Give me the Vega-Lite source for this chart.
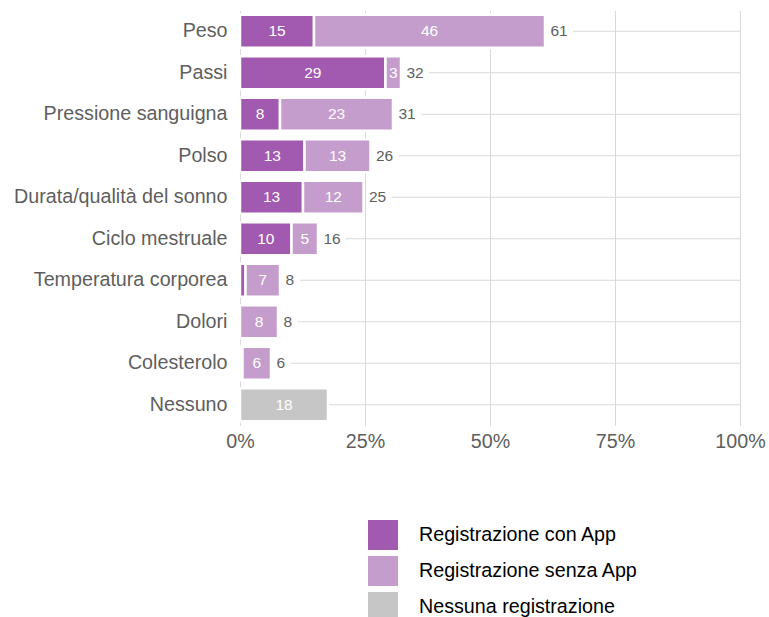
{
  "$schema": "https://vega.github.io/schema/vega-lite/v6.json",
  "autosize": {"type": "none"},
  "width": 500,
  "height": 415,
  "padding": {"left": 240, "top": 10.5, "right": 29, "bottom": 191.5},
  "background": "white",
  "config": {"view": {"stroke": null}, "font": "Liberation Sans"},
  "data": {
    "values": [
      {"cat": "Peso", "grp": "Registrazione con App", "value": 14.8},
      {"cat": "Peso", "grp": "Registrazione senza App", "value": 46.2},
      {"cat": "Passi", "grp": "Registrazione con App", "value": 29.1},
      {"cat": "Passi", "grp": "Registrazione senza App", "value": 3.1},
      {"cat": "Pressione sanguigna", "grp": "Registrazione con App", "value": 8.0},
      {"cat": "Pressione sanguigna", "grp": "Registrazione senza App", "value": 22.6},
      {"cat": "Polso", "grp": "Registrazione con App", "value": 12.9},
      {"cat": "Polso", "grp": "Registrazione senza App", "value": 13.2},
      {"cat": "Durata/qualità del sonno", "grp": "Registrazione con App", "value": 12.6},
      {"cat": "Durata/qualità del sonno", "grp": "Registrazione senza App", "value": 12.1},
      {"cat": "Ciclo mestruale", "grp": "Registrazione con App", "value": 10.3},
      {"cat": "Ciclo mestruale", "grp": "Registrazione senza App", "value": 5.3},
      {"cat": "Temperatura corporea", "grp": "Registrazione con App", "value": 1.1},
      {"cat": "Temperatura corporea", "grp": "Registrazione senza App", "value": 6.9},
      {"cat": "Dolori", "grp": "Registrazione senza App", "value": 7.6},
      {"cat": "Colesterolo", "grp": "Registrazione con App", "value": 0.5},
      {"cat": "Colesterolo", "grp": "Registrazione senza App", "value": 5.7},
      {"cat": "Nessuno", "grp": "Nessuna registrazione", "value": 17.6}
    ]
  },
  "transform": [
    {"joinaggregate": [{"op": "sum", "field": "value", "as": "total"}], "groupby": ["cat"]},
    {"stack": "value", "groupby": ["cat"], "sort": [{"field": "grp", "order": "ascending"}], "as": ["x0", "x1"]},
    {"calculate": "(datum.x0 + datum.x1) / 2", "as": "mid"}
  ],
  "encoding": {
    "y": {
      "field": "cat",
      "type": "nominal",
      "sort": ["Peso", "Passi", "Pressione sanguigna", "Polso", "Durata/qualità del sonno", "Ciclo mestruale", "Temperatura corporea", "Dolori", "Colesterolo", "Nessuno"],
      "scale": {"paddingInner": 0.2, "paddingOuter": 0.1},
      "axis": {"title": null, "domain": false, "ticks": false, "grid": false, "labelFontSize": 19.7, "labelColor": "#5e5e5e", "labelPadding": 13, "labelLimit": 0, "labelFont": "Liberation Sans"}
    }
  },
  "layer": [
    {
      "transform": [{"filter": "datum.x0 == 0 && datum.cat != 'Nessuno' && datum.total >= 9.5"}],
      "mark": {"type": "rule", "color": "#d9d9d9", "strokeWidth": 1, "xOffset": 28},
      "encoding": {
        "x": {"field": "total", "type": "quantitative", "title": null},
        "x2": {"datum": 100}
      }
    },
    {
      "transform": [{"filter": "datum.x0 == 0 && datum.cat != 'Nessuno' && datum.total < 9.5"}],
      "mark": {"type": "rule", "color": "#d9d9d9", "strokeWidth": 1, "xOffset": 20},
      "encoding": {
        "x": {"field": "total", "type": "quantitative", "title": null},
        "x2": {"datum": 100}
      }
    },
    {
      "transform": [{"filter": "datum.cat == 'Nessuno'"}],
      "mark": {"type": "rule", "color": "#d9d9d9", "strokeWidth": 1, "xOffset": 1},
      "encoding": {
        "x": {"field": "total", "type": "quantitative", "title": null},
        "x2": {"datum": 100}
      }
    },
    {
      "mark": {"type": "bar", "stroke": "white", "strokeWidth": 2.5},
      "encoding": {
        "x": {
          "field": "x0",
          "type": "quantitative",
          "title": null,
          "scale": {"domain": [0, 100], "nice": false},
          "axis": {"title": null, "values": [0, 25, 50, 75, 100], "labelExpr": "datum.value + '%'", "grid": true, "gridColor": "#d9d9d9", "domain": false, "ticks": false, "labelFlush": false, "labelFontSize": 19.7, "labelColor": "#5e5e5e", "labelPadding": 6, "labelFont": "Liberation Sans"}
        },
        "x2": {"field": "x1"},
        "color": {
          "field": "grp",
          "type": "nominal",
          "scale": {"domain": ["Registrazione con App", "Registrazione senza App", "Nessuna registrazione"], "range": ["#a259b0", "#c59dcc", "#c6c6c6"]},
          "legend": {"title": null, "orient": "none", "legendX": 128, "legendY": 509.5, "direction": "vertical", "symbolType": "square", "symbolSize": 900, "symbolStrokeWidth": 0, "labelFontSize": 19.7, "labelColor": "#000000", "labelOffset": 21, "rowPadding": 6, "labelLimit": 0, "labelFont": "Liberation Sans"}
        }
      }
    },
    {
      "transform": [{"filter": "datum.value >= 2.5"}],
      "mark": {"type": "text", "color": "white", "fontSize": 15.5, "align": "center", "baseline": "middle"},
      "encoding": {
        "x": {"field": "mid", "type": "quantitative", "title": null},
        "text": {"field": "value", "type": "quantitative", "format": ".0f"}
      }
    },
    {
      "transform": [{"filter": "datum.x0 == 0 && datum.cat != 'Nessuno'"}],
      "mark": {"type": "text", "color": "#5e5e5e", "fontSize": 15.5, "align": "left", "baseline": "middle", "dx": 5.5},
      "encoding": {
        "x": {"field": "total", "type": "quantitative", "title": null},
        "text": {"field": "total", "type": "quantitative", "format": ".0f"}
      }
    }
  ]
}
